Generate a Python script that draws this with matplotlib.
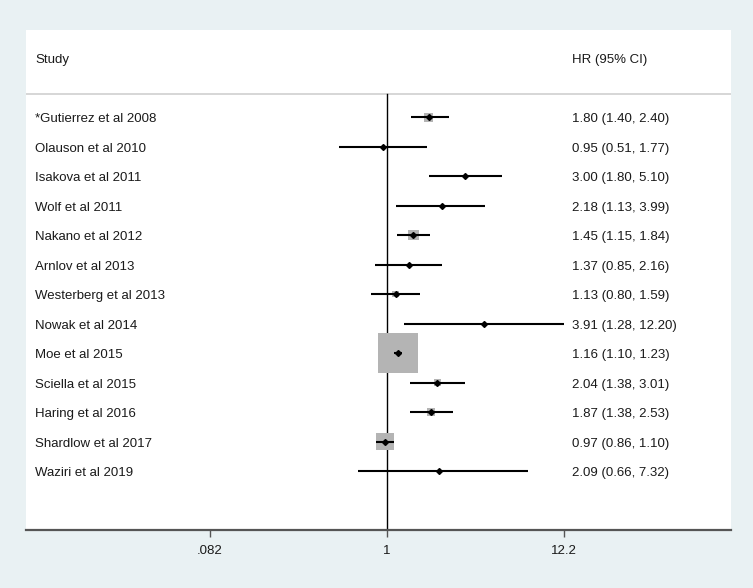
import numpy as np
import matplotlib
matplotlib.use("Agg")
import matplotlib.pyplot as plt
from matplotlib.transforms import blended_transform_factory

studies = ["*Gutierrez et al 2008", "Olauson et al 2010", "Isakova et al 2011",
           "Wolf et al 2011", "Nakano et al 2012", "Arnlov et al 2013",
           "Westerberg et al 2013", "Nowak et al 2014", "Moe et al 2015",
           "Sciella et al 2015", "Haring et al 2016", "Shardlow et al 2017",
           "Waziri et al 2019"]
hr = [1.80, 0.95, 3.00, 2.18, 1.45, 1.37, 1.13, 3.91, 1.16, 2.04, 1.87, 0.97, 2.09]
lo = [1.40, 0.51, 1.80, 1.13, 1.15, 0.85, 0.80, 1.28, 1.10, 1.38, 1.38, 0.86, 0.66]
hi = [2.40, 1.77, 5.10, 3.99, 1.84, 2.16, 1.59, 12.20, 1.23, 3.01, 2.53, 1.10, 7.32]
# approximate study weights (%)
weight = [3.5, 0.2, 0.2, 0.3, 5.2, 0.5, 2.1, 0.1, 69.4, 1.6, 2.8, 14.0, 0.1]
tick_vals = [0.082, 1, 12.2]
tick_labels = [".082", "1", "12.2"]

plt.rcParams["font.family"] = ["Liberation Sans", "DejaVu Sans"]
bg = "#e9f1f3"
txt = "#1a1a1a"

fig = plt.figure(figsize=(7.53, 5.88), dpi=100, facecolor=bg)
ax = fig.add_axes([26 / 753, 1 - 530 / 588, 705 / 753, 500 / 588])
ax.set_facecolor("white")

y = np.arange(len(studies))
hr = np.array(hr)
lo = np.array(lo)
hi = np.array(hi)
weight = np.array(weight)

ax.set_xscale("log")
ax.set_xlim(np.exp(-361 / 70.8), np.exp(344 / 70.8))
ax.set_ylim(14, -2.95)

# reference line at HR = 1
ax.plot([1, 1], [-0.78, 14], color="black", lw=1.0, zorder=2)

# weight boxes (area proportional to weight)
side_px = 40 * np.sqrt(weight / weight.max())
ax.scatter(hr, y, marker="s", s=(side_px * 0.72) ** 2, color="#b4b4b4",
           edgecolors="none", zorder=3)

# confidence intervals and point estimates
ax.hlines(y, lo, hi, color="black", lw=1.5, zorder=4)
ax.plot(hr, y, "D", color="black", ms=3.0, zorder=5)

# header and separator
trans = blended_transform_factory(ax.transAxes, ax.transData)
x_left, x_right, dy = 0.0128, 0.774, 0.07
ax.axhline(-0.78, color="#cfcfcf", lw=1.2, zorder=1)
ax.text(x_left, -2 + dy, "Study", transform=trans, va="center", ha="left",
        fontsize=9.5, color=txt)
ax.text(x_right, -2 + dy, "HR (95% CI)", transform=trans, va="center", ha="left",
        fontsize=9.5, color=txt)

for i, name in enumerate(studies):
    ax.text(x_left, i + dy, name, transform=trans, va="center", ha="left",
            fontsize=9.5, color=txt)
    ax.text(x_right, i + dy, f"{hr[i]:.2f} ({lo[i]:.2f}, {hi[i]:.2f})", transform=trans,
            va="center", ha="left", fontsize=9.5, color=txt)

for s in ["top", "left", "right"]:
    ax.spines[s].set_visible(False)
ax.spines["bottom"].set_color("#555555")
ax.spines["bottom"].set_linewidth(1.6)
ax.set_yticks([])
ax.set_xticks(tick_vals)
ax.set_xticklabels(tick_labels)
ax.xaxis.set_minor_locator(matplotlib.ticker.NullLocator())
ax.tick_params(axis="x", direction="out", length=5, width=1, color="#555555",
               labelsize=9.5, labelcolor=txt, pad=6)

fig.savefig("out.png", dpi=100, facecolor=bg)
